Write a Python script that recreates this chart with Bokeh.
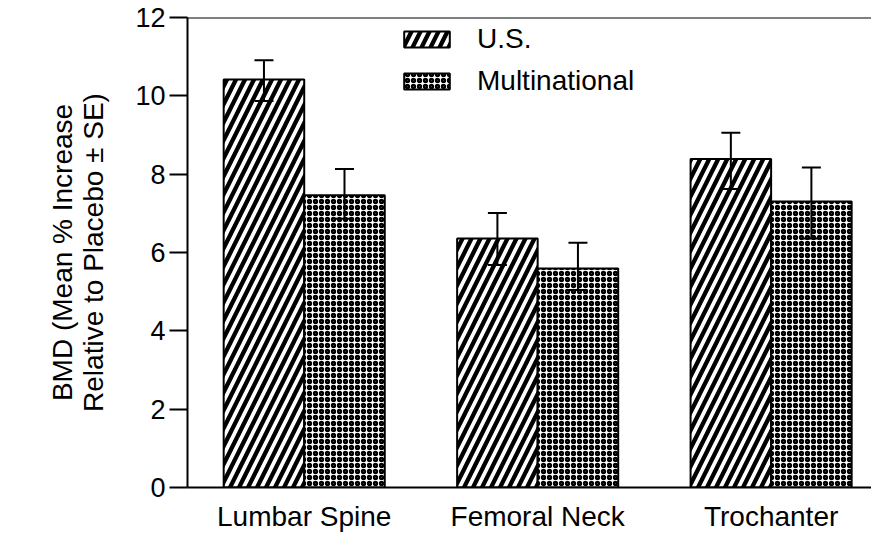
from bokeh.plotting import figure
from bokeh.models import ColumnDataSource, Range1d, FixedTicker, Span, Whisker, Legend, LegendItem, TeeHead
from bokeh.transform import dodge
from bokeh.embed import file_html
from bokeh.resources import INLINE

# ---- data ----
sites = ["Lumbar Spine", "Femoral Neck", "Trochanter"]
us_mean = [10.42, 6.36, 8.39]
us_upper = [10.91, 7.01, 9.06]
us_lower = [9.87, 5.68, 7.62]
mn_mean = [7.46, 5.59, 7.30]
mn_upper = [8.13, 6.25, 8.17]
mn_lower = [6.86, 5.04, 6.36]
y_ticks = [0, 2, 4, 6, 8, 10, 12]
series_names = ["U.S.", "Multinational"]

pos = [i + 0.5 for i in range(len(sites))]

FONT = "Liberation Sans"
W, H = 871, 534

p = figure(width=W, height=H, output_backend="svg", toolbar_location=None,
           x_range=Range1d(0, 2.93), y_range=Range1d(0, 12),
           min_border_left=187, min_border_top=17, min_border_bottom=45, min_border_right=0)
p.outline_line_color = None
p.xgrid.visible = False
p.ygrid.visible = False
p.background_fill_color = "white"
p.border_fill_color = "white"

src_us = ColumnDataSource(dict(x=pos, top=us_mean, upper=us_upper, lower=us_lower))
src_mn = ColumnDataSource(dict(x=pos, top=mn_mean, upper=mn_upper, lower=mn_lower))

bw = 0.345
r_us = p.vbar(x=dodge("x", -bw / 2, range=p.x_range), top="top", width=bw, bottom=0, source=src_us,
              fill_color="white", line_color="black", line_width=2,
              hatch_pattern="right_diagonal_line", hatch_color="black", hatch_scale=18, hatch_weight=4.3)
r_mn = p.vbar(x=dodge("x", bw / 2, range=p.x_range), top="top", width=bw, bottom=0, source=src_mn,
              fill_color="white", line_color="black", line_width=2,
              hatch_pattern="ring", hatch_color="black", hatch_scale=6, hatch_weight=2.4)

for src, off in ((src_us, -bw / 2), (src_mn, bw / 2)):
    w = Whisker(base=dodge("x", off, range=p.x_range), upper="upper", lower="lower", source=src,
                line_color="black", line_width=2, level="annotation",
                upper_head=TeeHead(size=19, line_width=2, line_color="black"),
                lower_head=TeeHead(size=19, line_width=2, line_color="black"))
    p.add_layout(w)

p.add_layout(Span(location=12, dimension="width", line_color="black", line_width=2))

# axes
p.yaxis.ticker = FixedTicker(ticks=y_ticks)
p.yaxis.minor_tick_line_color = None
p.yaxis.major_tick_in = 0
p.yaxis.major_tick_out = 18
p.yaxis.major_tick_line_width = 2
p.yaxis.axis_line_width = 2
p.yaxis.major_label_text_font = FONT
p.yaxis.major_label_text_font_size = "27px"
p.yaxis.major_label_text_color = "black"
p.yaxis.major_label_standoff = 4
p.yaxis.axis_label = "BMD (Mean % Increase\nRelative to Placebo \u00b1 SE)"
p.yaxis.axis_label_text_font = FONT
p.yaxis.axis_label_text_font_size = "28px"
p.yaxis.axis_label_text_font_style = "normal"
p.yaxis.axis_label_text_color = "black"
p.yaxis.axis_label_text_line_height = 1.0
p.yaxis.axis_label_standoff = 23

p.xaxis.ticker = FixedTicker(ticks=pos)
p.xaxis.major_label_overrides = {pp: s for pp, s in zip(pos, sites)}
p.xaxis.minor_tick_line_color = None
p.xaxis.major_tick_line_color = None
p.xaxis.major_tick_in = 0
p.xaxis.major_tick_out = 0
p.xaxis.axis_line_width = 2
p.xaxis.major_label_text_font = FONT
p.xaxis.major_label_text_font_size = "28px"
p.xaxis.major_label_text_color = "black"
p.xaxis.major_label_standoff = 13

legend = Legend(items=[LegendItem(label=series_names[0], renderers=[r_us]),
                       LegendItem(label=series_names[1], renderers=[r_mn])],
                location=(211, 390), orientation="vertical",
                glyph_width=57, glyph_height=20, label_height=20, spacing=10,
                padding=0, margin=0, label_standoff=22,
                label_text_font=FONT, label_text_font_size="28px", label_text_color="black",
                border_line_color=None, background_fill_alpha=0)
p.add_layout(legend)

open("out.html", "w").write(file_html(p, INLINE))
